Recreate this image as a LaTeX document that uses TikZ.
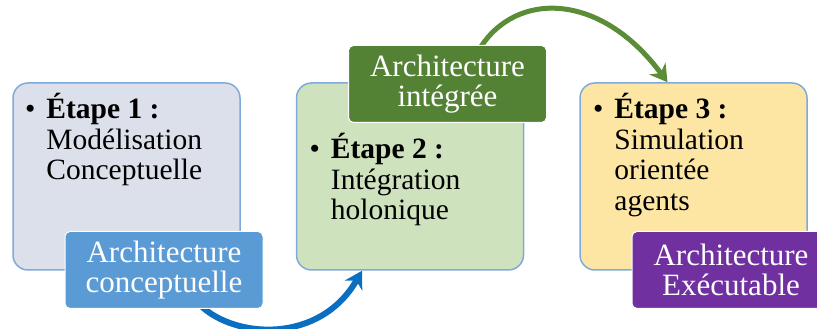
\documentclass[tikz,border=0pt]{standalone}
\usepackage{fontspec}
\IfFontExistsTF{LiberationSerif-Regular.ttf}{%
  \setmainfont{LiberationSerif-Regular.ttf}[BoldFont=LiberationSerif-Bold.ttf]}{%
  \setmainfont{Liberation Serif}}
\usetikzlibrary{positioning, arrows.meta, backgrounds}
\definecolor{stageline}{HTML}{7FAADB}
\definecolor{stagegray}{HTML}{DCE0EA}
\definecolor{stagegreen}{HTML}{CDE2BD}
\definecolor{stageyellow}{HTML}{FDE6A3}
\definecolor{archblue}{HTML}{5B9BD5}
\definecolor{archgreen}{HTML}{548235}
\definecolor{archpurple}{HTML}{7030A0}
\definecolor{flowblue}{HTML}{0A6FC0}
\definecolor{flowgreen}{HTML}{5B8C36}

\begin{document}
\begin{tikzpicture}[
        x=1pt, y=1pt,
        stagebox/.style={rectangle, rounded corners=15pt, draw=stageline, line width=1.5pt, minimum width=227pt, minimum height=187pt},
        stagetxt/.style={anchor=north west, inner sep=0pt, align=left, font=\fontsize{29.5}{30.5}\selectfont},
        archi/.style={rectangle, rounded corners=5pt, draw=white, line width=1pt, text=white, minimum width=198pt, minimum height=77pt, align=center, inner sep=2pt, font=\fontsize{31}{30}\selectfont},
        flow/.style={->, >={Stealth[length=17pt, width=20pt]}}
    ]
        \useasboundingbox (0,0) rectangle (817,329);

        % Stages
        \node[stagebox, fill=stagegray] (stage1) at (126.5, 152.5) {};
        \node[stagebox, fill=stagegreen] (stage2) at (410, 152.5) {};
        \node[stagebox, fill=stageyellow] (stage3) at (693.5, 152.5) {};

        % Stage texts
        \node[stagetxt] (txt1) at ([xshift=34pt, yshift=-11pt]stage1.north west) {\llap{\textbullet\hspace{11pt}}\textbf{Étape 1 :}\\Modélisation\\Conceptuelle};
        \node[stagetxt] (txt2) at ([xshift=35pt, yshift=-51pt]stage2.north west) {\llap{\textbullet\hspace{11pt}}\textbf{Étape 2 :}\\Intégration\\holonique};
        \node[stagetxt] (txt3) at ([xshift=35pt, yshift=-11pt]stage3.north west) {\llap{\textbullet\hspace{11pt}}\textbf{Étape 3 :}\\Simulation\\orientée\\agents};

        % Architectures
        \node[archi, fill=archblue] (archi1) at (164, 59) {Architecture\\conceptuelle};
        \node[archi, fill=archgreen] (archi2) at (447.5, 245) {Architecture\\intégrée};
        \node[archi, fill=archpurple] (archi3) at (731, 59) {Architecture\\Exécutable};

        % Flow between stages
        \begin{scope}[on background layer]
        \draw[flow, line width=6pt, color=flowblue] ([xshift=36pt, yshift=4pt]archi1.south) .. controls (235,-10) and (320,-15) .. ([xshift=-48pt]stage2.south);
        \draw[flow, line width=5pt, color=flowgreen] ([xshift=32pt, yshift=-4pt]archi2.north) .. controls (515,338) and (600,338) .. ([xshift=-26pt]stage3.north);
        \end{scope}
    \end{tikzpicture}
\end{document}
